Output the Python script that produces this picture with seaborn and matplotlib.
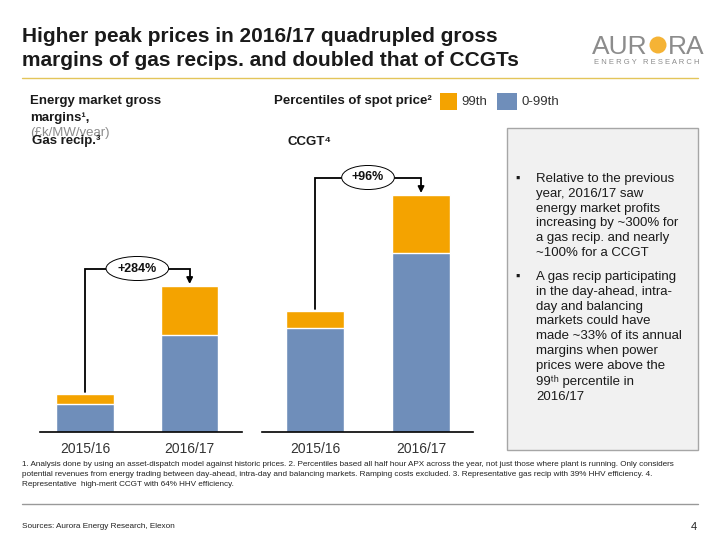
import matplotlib
matplotlib.use("Agg")
import matplotlib.pyplot as plt
import seaborn as sns
import pandas as pd
from matplotlib.patches import Rectangle, Ellipse
from matplotlib.lines import Line2D

# data (£k/MW/year)
years = ["2015/16", "2016/17"]
recip_base = [5.6, 19.4]      # 0-99th percentile
recip_peak = [2.0, 9.8]       # 99th percentile
ccgt_base = [20.8, 35.8]
ccgt_peak = [3.4, 11.6]
changes = ["+284%", "+96%"]

ORANGE = "#F4A300"
BLUE = "#6F8EBA"

sns.set_theme(style="white")
plt.rcParams["font.family"] = ["Liberation Sans", "DejaVu Sans"]

fig = plt.figure(figsize=(7.2, 5.4), dpi=100)


def fx(px):
    return px / 720


def fy(py):
    return 1 - py / 540


def ftext(x, y, s, **kw):
    fig.text(fx(x), fy(y), s, **kw)


def stacked(ax, base, peak, label, xlim):
    df = pd.DataFrame({"year": years, "base": base,
                       "total": [b + p for b, p in zip(base, peak)]})
    sns.barplot(data=df, x="year", y="total", color=ORANGE, width=0.55,
                saturation=1, errorbar=None, ax=ax)
    sns.barplot(data=df, x="year", y="base", color=BLUE, width=0.55,
                saturation=1, errorbar=None, ax=ax)
    ax.set_ylim(0, 55)
    ax.set_xlim(*xlim)
    ax.set_xlabel("")
    ax.set_ylabel("")
    ax.set_yticks([])
    for s in ["left", "right", "top"]:
        ax.spines[s].set_visible(False)
    ax.spines["bottom"].set_color("black")
    ax.spines["bottom"].set_linewidth(1.2)
    ax.tick_params(axis="x", length=0, pad=7, labelsize=10, labelcolor="#333333")

    # growth bracket
    t0, t1 = df["total"]
    level = t1 + 3.5
    ax.plot([0, 0, 1, 1], [t0 + 0.5, level, level, t1 + 1.4],
            color="black", lw=1.3, clip_on=False, solid_joinstyle="miter")
    ax.annotate("", xy=(1, t1 + 0.4), xytext=(1, t1 + 1.6),
                arrowprops=dict(arrowstyle="-|>", color="black", lw=1.3,
                                mutation_scale=9, shrinkA=0, shrinkB=0),
                annotation_clip=False)
    ax.text(0.5, level, label, ha="center", va="center", fontsize=9,
            fontweight="bold", color="#111111",
            bbox=dict(boxstyle="ellipse,pad=0.2", fc="white", ec="black", lw=0.7))


ax1 = fig.add_axes([fx(40), fy(432), fx(202), 275 / 540])
stacked(ax1, recip_base, recip_peak, changes[0], (-0.43, 1.50))
ax2 = fig.add_axes([fx(262), fy(432), fx(211), 275 / 540])
stacked(ax2, ccgt_base, ccgt_peak, changes[1], (-0.50, 1.49))

# title
ftext(22, 37, "Higher peak prices in 2016/17 quadrupled gross",
      fontsize=15, fontweight="bold", color="#1a1a1a", va="center")
ftext(22, 61, "margins of gas recips. and doubled that of CCGTs",
      fontsize=15, fontweight="bold", color="#1a1a1a", va="center")
fig.add_artist(Line2D([fx(22), fx(698)], [fy(78), fy(78)],
                      color="#E3C55A", lw=1, transform=fig.transFigure))

# logo
ftext(648, 47, "AUR", fontsize=19, color="#8C8C8C", ha="right", va="center")
fig.add_artist(Ellipse((fx(658), fy(45)), fx(17), 17 / 540, fc="#F5B335",
                       ec="none", transform=fig.transFigure))
ftext(668, 47, "RA", fontsize=19, color="#8C8C8C", ha="left", va="center")
ftext(647, 62, "E N E R G Y   R E S E A R C H", fontsize=5.5,
      color="#8C8C8C", ha="center", va="center")

# headers and legend
bold = dict(fontsize=9.5, fontweight="bold", color="#1a1a1a", va="center")
ftext(30, 101, "Energy market gross", **bold)
ftext(30, 118, "margins¹,", **bold)
ftext(30, 133, "(£k/MW/year)", fontsize=9.5, color="#8C8C8C", va="center")
ftext(32, 141, "Gas recip.³", **bold)
ftext(274, 101, "Percentiles of spot price²", **bold)
ftext(287, 142, "CCGT⁴", **bold)

fig.add_artist(Rectangle((fx(440), fy(110)), fx(17), 17 / 540, fc=ORANGE,
                         ec="none", transform=fig.transFigure))
ftext(461, 102, "99th", fontsize=9.5, color="#333333", va="center")
fig.add_artist(Rectangle((fx(497), fy(110)), fx(20), 17 / 540, fc=BLUE,
                         ec="none", transform=fig.transFigure))
ftext(522, 102, "0-99th", fontsize=9.5, color="#333333", va="center")

# commentary box
fig.add_artist(Rectangle((fx(507), fy(450)), fx(191), 322 / 540, fc="#F1F1F1",
                         ec="#A6A6A6", lw=1, transform=fig.transFigure))
body = dict(fontsize=9.5, color="#1a1a1a", va="top", linespacing=1.31)
ftext(515, 173, "▪", fontsize=9, color="#1a1a1a", va="top")
ftext(536, 173, "Relative to the previous\nyear, 2016/17 saw\nenergy market profits\n"
      "increasing by ~300% for\na gas recip. and nearly\n~100% for a CCGT", **body)
ftext(515, 271, "▪", fontsize=9, color="#1a1a1a", va="top")
ftext(536, 271, "A gas recip participating\nin the day-ahead, intra-\nday and balancing\n"
      "markets could have\nmade ~33% of its annual\nmargins when power\n"
      "prices were above the\n99ᵗʰ percentile in\n2016/17", **body)

# footnotes
ftext(22, 461, "1. Analysis done by using an asset-dispatch model against historic prices. "
      "2. Percentiles based all half hour APX across the year, not just those where plant is running. "
      "Only considers\npotential revenues from energy trading between day-ahead, intra-day and "
      "balancing markets. Ramping costs excluded. 3. Representative gas recip with 39% HHV "
      "efficiency. 4.\nRepresentative  high-merit CCGT with 64% HHV efficiency.",
      fontsize=5.9, color="#222222", va="top", linespacing=1.55)
fig.add_artist(Line2D([fx(22), fx(698)], [fy(504), fy(504)],
                      color="#999999", lw=1, transform=fig.transFigure))
ftext(22, 527, "Sources: Aurora Energy Research, Elexon", fontsize=5.9,
      color="#222222", va="center")
ftext(697, 527, "4", fontsize=8, color="#222222", va="center", ha="right")

fig.savefig("out.png", dpi=100)
